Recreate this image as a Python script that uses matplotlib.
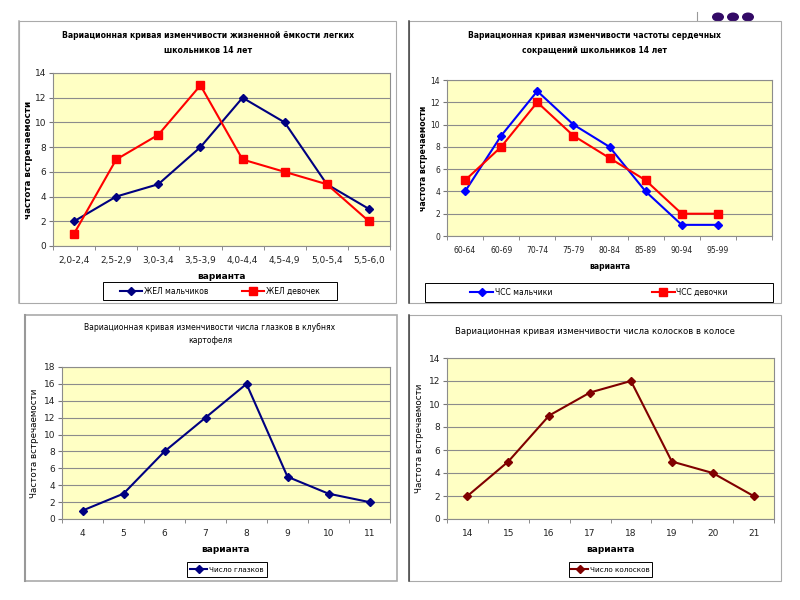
import matplotlib
matplotlib.use('Agg')
import matplotlib.pyplot as plt
from matplotlib.patches import Rectangle, Circle
from matplotlib.lines import Line2D

plt.rcParams['font.family'] = ['DejaVu Sans']

# --- data ---
zhel_labels = ['2,0-2,4', '2,5-2,9', '3,0-3,4', '3,5-3,9', '4,0-4,4', '4,5-4,9', '5,0-5,4', '5,5-6,0']
zhel_boys = [2, 4, 5, 8, 12, 10, 5, 3]
zhel_girls = [1, 7, 9, 13, 7, 6, 5, 2]

chss_labels = ['60-64', '60-69', '70-74', '75-79', '80-84', '85-89', '90-94', '95-99']
chss_boys = [4, 9, 13, 10, 8, 4, 1, 1]
chss_girls = [5, 8, 12, 9, 7, 5, 2, 2]

eyes_labels = ['4', '5', '6', '7', '8', '9', '10', '11']
eyes_counts = [1, 3, 8, 12, 16, 5, 3, 2]

spikelet_labels = ['14', '15', '16', '17', '18', '19', '20', '21']
spikelet_counts = [2, 5, 9, 11, 12, 5, 4, 2]

W, H = 800, 600
fig = plt.figure(figsize=(8, 6), dpi=100)

def fx(x):
    return x / W

def fy(y):
    return 1 - y / H

def rect(x0, y0, x1, y1):
    return [fx(x0), fy(y1), fx(x1) - fx(x0), fy(y0) - fy(y1)]

# decoration in the top right corner (partly hidden by the chart frame)
for cx in (718, 733, 748):
    fig.patches.append(Circle((fx(cx), fy(17)), 6 / W, transform=fig.transFigure,
                              facecolor='#330a66', edgecolor='none', zorder=0))
fig.add_artist(Line2D([fx(697), fx(697)], [fy(12), fy(21)], color='#999999', lw=0.8, zorder=0))

# chart frames
def frame(x0, y0, x1, y1, left_color='#aaaaaa', lw=0.8):
    fig.patches.append(Rectangle((fx(x0), fy(y1)), fx(x1) - fx(x0), fy(y0) - fy(y1),
                                 transform=fig.transFigure, facecolor='white',
                                 edgecolor='#aaaaaa', lw=lw, zorder=1))
    fig.add_artist(Line2D([fx(x0), fx(x0)], [fy(y0), fy(y1)], color=left_color, lw=lw + 0.3, zorder=2))

frame(19, 21, 396, 303)
frame(409, 21, 781, 303, left_color='#404040')
frame(25, 315, 397, 581, left_color='#999999', lw=1.2)
frame(409, 315, 781, 581, left_color='#404040')

def make_axes(box, labels, ymax, ystep, nbins=None, fs=6.5):
    ax = fig.add_axes(rect(*box))
    ax.set_zorder(3)
    ax.set_facecolor('#ffffc4')
    n = nbins if nbins else len(labels)
    ax.set_xlim(-0.5, n - 0.5)
    ax.set_ylim(0, ymax)
    ax.set_xticks(range(len(labels)))
    ax.set_xticklabels(labels)
    ax.set_xticks([i - 0.5 for i in range(n + 1)], minor=True)
    ax.tick_params(axis='x', which='major', length=0, labelsize=fs, pad=7, colors='#222222')
    ax.tick_params(axis='x', which='minor', length=3, color='#777777')
    ax.set_yticks(range(0, ymax + 1, ystep))
    ax.tick_params(axis='y', length=3, labelsize=fs, color='#777777', labelcolor='#222222', pad=2)
    ax.grid(axis='y', color='#8c8c8c', lw=0.8)
    ax.set_axisbelow(True)
    for s in ax.spines.values():
        s.set_color('#8c8c8c')
        s.set_linewidth(0.8)
    return ax

def legend(handles, box, fs=6, colsp=2.0, hl=2.6):
    x0, y0, x1, y1 = box
    leg = fig.legend(handles=handles, loc='center',
                     bbox_to_anchor=(fx(x0), fy(y1), fx(x1) - fx(x0), fy(y0) - fy(y1)),
                     bbox_transform=fig.transFigure, ncol=len(handles),
                     fontsize=fs, frameon=False, handlelength=hl, borderaxespad=0,
                     handletextpad=0.25, columnspacing=colsp)
    leg.set_zorder(4)
    # box drawn separately so it keeps the reference size
    fig.patches.append(Rectangle((fx(x0), fy(y1)), fx(x1) - fx(x0), fy(y0) - fy(y1),
                                 transform=fig.transFigure, facecolor='white',
                                 edgecolor='black', lw=0.7, zorder=2.5))
    return leg

# --- panel 1: ЖЕЛ ---
ax1 = make_axes((53, 73, 390, 246), zhel_labels, 14, 2)
l1, = ax1.plot(range(len(zhel_boys)), zhel_boys, color='#000080', marker='D', ms=4.5, lw=1.5,
               label='ЖЕЛ мальчиков')
l2, = ax1.plot(range(len(zhel_girls)), zhel_girls, color='#ff0000', marker='s', ms=5.5, lw=1.5,
               label='ЖЕЛ девочек')
ax1.set_xlabel('варианта', fontsize=6.5, fontweight='bold', labelpad=5)
ax1.set_ylabel('частота встречаемости', fontsize=6.3, fontweight='bold', labelpad=1)
fig.text(fx(208), fy(43), 'Вариационная кривая изменчивости жизненной ёмкости легких\nшкольников 14 лет',
         ha='center', va='center', fontsize=5.6, fontweight='bold', linespacing=1.9, zorder=5)
legend([l1, l2], (103, 282, 337, 300), fs=5.5, colsp=4.5, hl=2.8)

# --- panel 2: ЧСС ---
ax2 = make_axes((447, 80, 772, 236), chss_labels, 14, 2, nbins=9, fs=5.5)
l3, = ax2.plot(range(len(chss_boys)), chss_boys, color='#0000ff', marker='D', ms=4.5, lw=1.5,
               label='ЧСС мальчики')
l4, = ax2.plot(range(len(chss_girls)), chss_girls, color='#ff0000', marker='s', ms=5.5, lw=1.5,
               label='ЧСС девочки')
ax2.set_xlabel('варианта', fontsize=5.5, fontweight='bold', labelpad=5)
ax2.set_ylabel('частота встречаемости', fontsize=5.6, fontweight='bold', labelpad=2)
fig.text(fx(594), fy(43), 'Вариационная кривая изменчивости частоты сердечных\nсокращений школьников 14 лет',
         ha='center', va='center', fontsize=5.5, fontweight='bold', linespacing=1.9, zorder=5)
legend([l3, l4], (425, 283, 773, 302), fs=5.5, colsp=13.0, hl=3.0)

# --- panel 3: глазки ---
ax3 = make_axes((62, 367, 390, 519), eyes_labels, 18, 2)
l5, = ax3.plot(range(len(eyes_counts)), eyes_counts, color='#000080', marker='D', ms=4.5, lw=1.5,
               label='Число глазков')
ax3.set_xlabel('варианта', fontsize=6.5, fontweight='bold', labelpad=5)
ax3.set_ylabel('Частота встречаемости', fontsize=6.3, labelpad=3)
fig.text(fx(210), fy(334), 'Вариационная кривая изменчивости числа глазков в клубнях\nкартофеля',
         ha='center', va='center', fontsize=5.5, linespacing=1.7, zorder=5)
legend([l5], (187, 562, 267, 577), fs=5.2, hl=2.4)

# --- panel 4: колоски ---
ax4 = make_axes((447, 358, 774, 519), spikelet_labels, 14, 2)
l6, = ax4.plot(range(len(spikelet_counts)), spikelet_counts, color='#800000', marker='D', ms=4.5, lw=1.5,
               label='Число колосков')
ax4.set_xlabel('варианта', fontsize=6.5, fontweight='bold', labelpad=5)
ax4.set_ylabel('Частота встречаемости', fontsize=6.3, labelpad=3)
fig.text(fx(595), fy(331), 'Вариационная кривая изменчивости числа колосков в колосе',
         ha='center', va='center', fontsize=6.1, zorder=5)
legend([l6], (569, 562, 652, 577), fs=5.2, hl=2.4)

fig.savefig('out.png', dpi=100)
